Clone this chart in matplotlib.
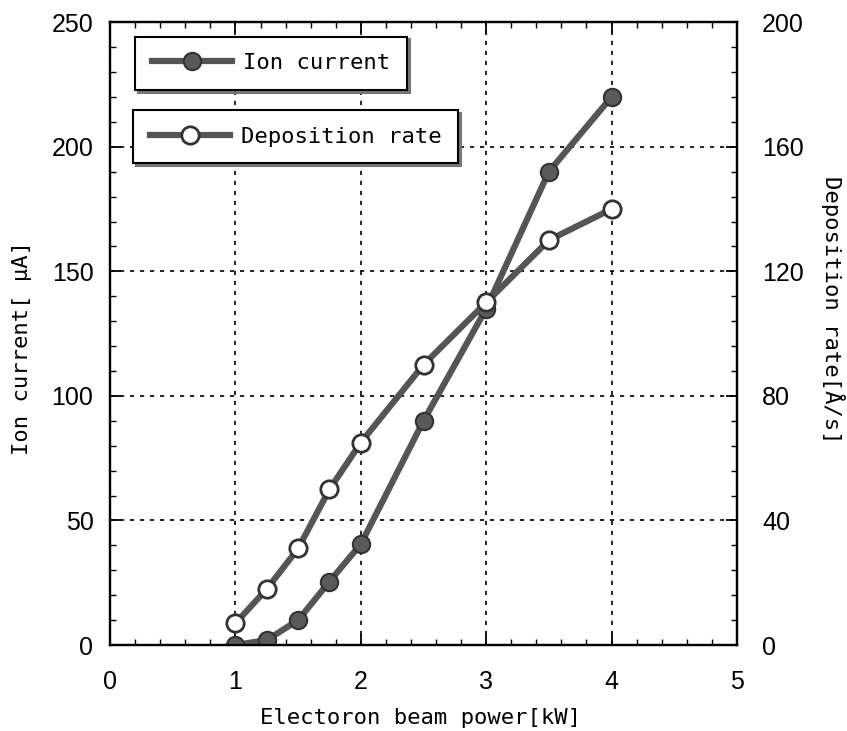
import numpy as np
import matplotlib
matplotlib.use("Agg")
import matplotlib.pyplot as plt
from matplotlib.ticker import MultipleLocator

# data
power_kw = [1.0, 1.25, 1.5, 1.75, 2.0, 2.5, 3.0, 3.5, 4.0]
ion_current = [0, 2, 10, 25.5, 40.5, 90, 135, 190, 220]
deposition_rate = [7, 18, 31, 50, 65, 90, 110, 130, 140]

xticks = [0, 1, 2, 3, 4, 5]
left_ticks = [0, 50, 100, 150, 200, 250]
right_ticks = [0, 40, 80, 120, 160, 200]

plt.rcParams['font.family'] = ['Liberation Sans', 'DejaVu Sans']
txt_font = ['DejaVu Sans Mono', 'DejaVu Sans']
line_col = '#555555'

fig = plt.figure(figsize=(8.47, 7.31), dpi=100)
ax = fig.add_axes([0.130, 0.1176, 0.740, 0.852])
ax2 = ax.twinx()

ax.set_xlim(0, 5)
ax.set_ylim(0, 250)
ax2.set_ylim(0, 200)

ax.set_xticks(xticks)
ax.set_yticks(left_ticks)
ax2.set_yticks(right_ticks)
ax.xaxis.set_minor_locator(MultipleLocator(0.2))
ax.yaxis.set_minor_locator(MultipleLocator(10))
ax2.yaxis.set_minor_locator(MultipleLocator(8))

ax.tick_params(axis='x', which='both', direction='in', top=True, labelsize=18, pad=18)
ax.tick_params(axis='y', which='both', direction='in', labelsize=18, pad=12)
ax2.tick_params(axis='y', which='both', direction='in', labelsize=18, pad=18)
for a in (ax, ax2):
    a.tick_params(which='major', length=8, width=1.3)
    a.tick_params(which='minor', length=4, width=1.0)

for sp in list(ax.spines.values()) + list(ax2.spines.values()):
    sp.set_linewidth(1.6)

ax.grid(True, which='major', color='black', linestyle=(0, (2.5, 3.5)), linewidth=1.2)
ax.set_axisbelow(True)

l1, = ax.plot(power_kw, ion_current, color=line_col, lw=4.5, marker='o',
              ms=12.5, mfc='#5a5a5a', mec='#333333', mew=1.5, zorder=3,
              label='Ion current')
l2, = ax2.plot(power_kw, deposition_rate, color=line_col, lw=4.5, marker='o',
               ms=12.5, mfc='white', mec='#333333', mew=2, zorder=3,
               label='Deposition rate')

ax.set_xlabel('Electoron beam power[kW]', fontsize=16, family=txt_font)
ax.set_ylabel('Ion current[ μA]', fontsize=16, family=txt_font)
ax2.set_ylabel('Deposition rate[Å/s]', fontsize=16, family=txt_font, rotation=270)
ax.xaxis.set_label_coords(0.496, -0.117)
ax.yaxis.set_label_coords(-0.14, 0.477)
ax2.yaxis.set_label_coords(1.153, 0.539)
for lab in (ax.xaxis.label, ax.yaxis.label, ax2.yaxis.label):
    lab.set_va('center')

leg_kw = dict(loc='upper left', frameon=True, fancybox=False,
              shadow={'color': '#777777', 'alpha': 1.0},
              handlelength=3.6, borderpad=0.75, handletextpad=0.5,
              borderaxespad=0, prop={'family': txt_font, 'size': 16})
leg1 = ax2.legend(handles=[l1], bbox_to_anchor=(0.04, 0.977), **leg_kw)
leg1.get_frame().set_edgecolor('black')
leg1.get_frame().set_linewidth(1.5)
ax2.add_artist(leg1)
leg2 = ax2.legend(handles=[l2], bbox_to_anchor=(0.037, 0.859), **leg_kw)
leg2.get_frame().set_edgecolor('black')
leg2.get_frame().set_linewidth(1.5)

fig.savefig('out.png', dpi=100)
